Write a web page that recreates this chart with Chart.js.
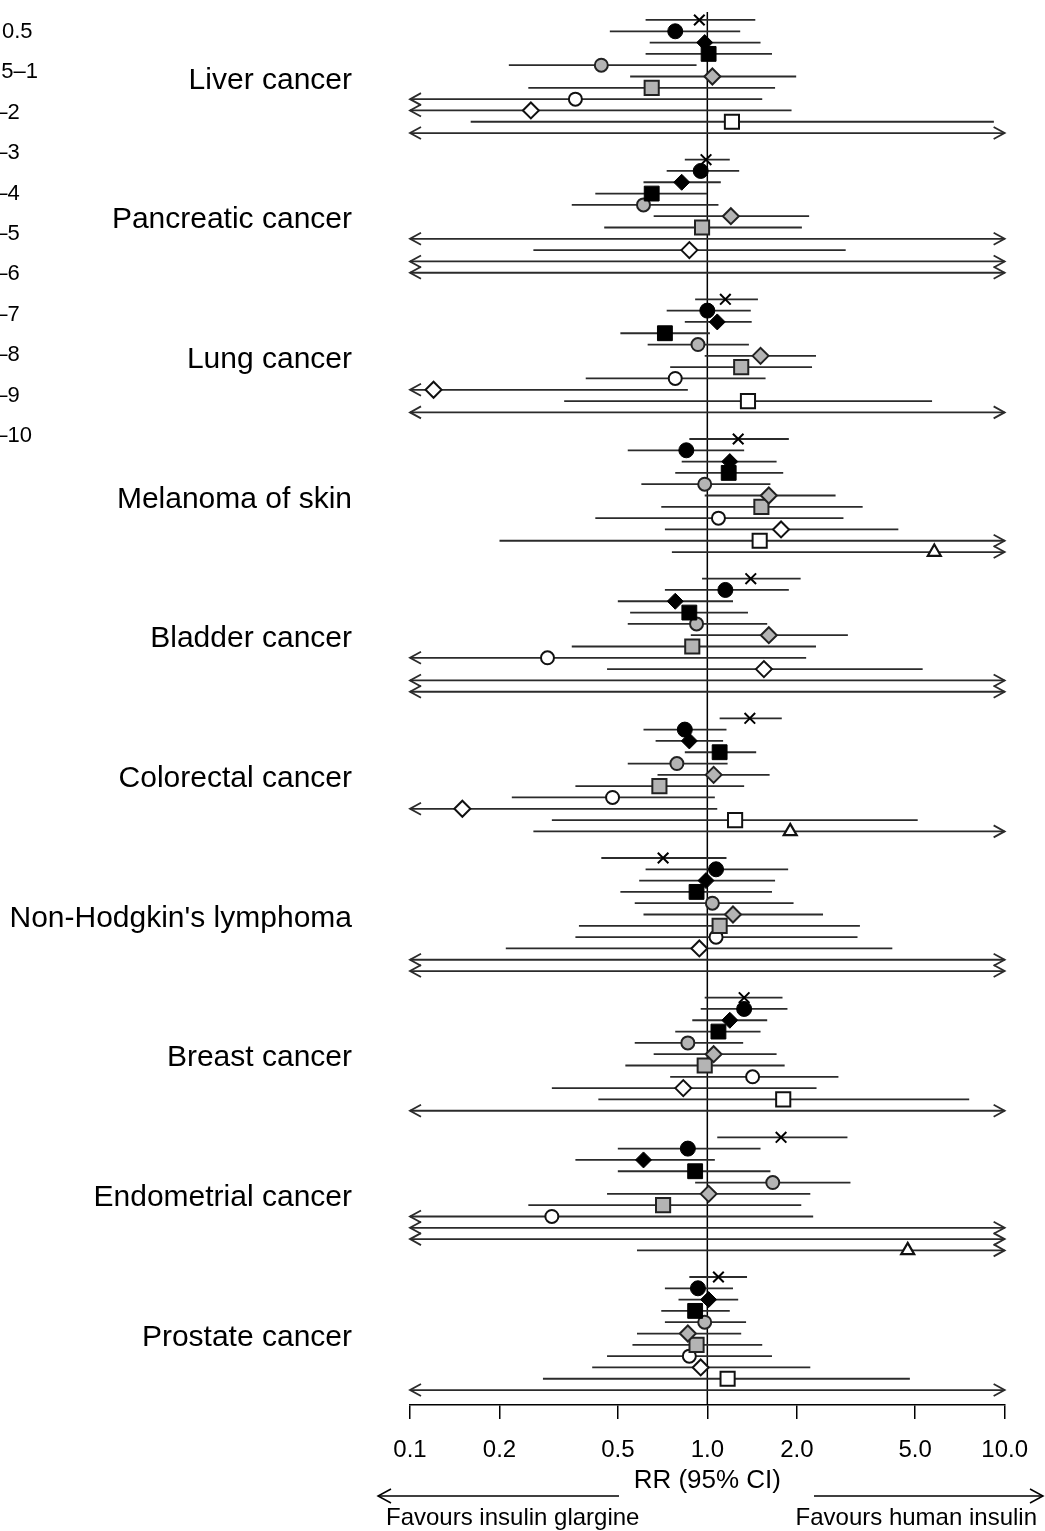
<!DOCTYPE html>
<html><head><meta charset="utf-8">
<script src="https://cdn.jsdelivr.net/npm/chart.js@4.4.1/dist/chart.umd.min.js"></script>
<style>html,body{margin:0;padding:0;background:#fff;}#wrap{width:1045px;height:1531px;}</style>
</head><body><div id="wrap"><canvas id="c" width="1045" height="1531"></canvas></div>
<script>
// ---------- DATA ----------
const cancers = ["Liver cancer","Pancreatic cancer","Lung cancer","Melanoma of skin","Bladder cancer",
  "Colorectal cancer","Non-Hodgkin's lymphoma","Breast cancer","Endometrial cancer","Prostate cancer"];
const periods = ["< 0.5","0.5–1","1–2","2–3","3–4","4–5","5–6","6–7","7–8","8–9","9–10"];
const tickValues = [0.1,0.2,0.5,1,2,5,10];
const tickLabels = ["0.1","0.2","0.5","1.0","2.0","5.0","10.0"];
const N = null;
// each entry: [RR, lower 95% CI, upper 95% CI], cancers in the order above
const rr_lt05 = [[0.94,0.62,1.45],[0.99,0.84,1.19],[1.15,0.91,1.48],[1.27,0.87,1.88],[1.40,0.96,2.06],
  [1.39,1.10,1.78],[0.71,0.44,1.16],[1.33,0.98,1.79],[1.77,1.08,2.96],[1.09,0.87,1.36]];
const rr_05_1 = [[0.78,0.47,1.29],[0.95,0.73,1.28],[1.00,0.73,1.40],[0.85,0.54,1.33],[1.15,0.72,1.88],
  [0.84,0.61,1.16],[1.07,0.62,1.87],[1.33,0.95,1.86],[0.86,0.50,1.51],[0.93,0.72,1.22]];
const rr_1_2 = [[0.98,0.64,1.51],[0.82,0.61,1.11],[1.08,0.84,1.41],[1.19,0.82,1.71],[0.78,0.50,1.22],
  [0.87,0.67,1.13],[0.99,0.59,1.69],[1.19,0.89,1.59],[0.61,0.36,1.06],[1.01,0.80,1.27]];
const rr_2_3 = [[1.01,0.62,1.65],[0.65,0.42,1.00],[0.72,0.51,1.02],[1.18,0.78,1.80],[0.87,0.55,1.37],
  [1.10,0.84,1.46],[0.92,0.51,1.65],[1.09,0.78,1.51],[0.91,0.50,1.63],[0.91,0.70,1.19]];
const rr_3_4 = [[0.44,0.215,0.92],[0.61,0.35,1.09],[0.93,0.63,1.38],[0.98,0.60,1.63],[0.92,0.54,1.59],
  [0.79,0.54,1.17],[1.04,0.57,1.95],[0.86,0.57,1.32],[1.66,0.91,3.03],[0.98,0.72,1.35]];
const rr_4_5 = [[1.04,0.55,1.99],[1.20,0.66,2.20],[1.51,0.98,2.32],[1.61,0.98,2.70],[1.61,0.88,2.97],
  [1.05,0.68,1.62],[1.22,0.61,2.45],[1.05,0.66,1.71],[1.01,0.46,2.22],[0.86,0.58,1.30]];
const rr_5_6 = [[0.65,0.25,1.69],[0.96,0.45,2.08],[1.30,0.75,2.25],[1.52,0.70,3.33],[0.89,0.35,2.32],
  [0.69,0.36,1.33],[1.10,0.37,3.26],[0.98,0.53,1.82],[0.71,0.25,2.07],[0.92,0.56,1.53]];
const rr_6_7 = [[0.36,0.05,1.53],[N,0.01,100],[0.78,0.39,1.57],[1.09,0.42,2.87],[0.29,0.05,2.15],
  [0.48,0.22,1.06],[1.07,0.36,3.20],[1.42,0.75,2.76],[0.30,0.05,2.27],[0.87,0.46,1.65]];
const rr_7_8 = [[0.255,0.05,1.92],[0.87,0.26,2.92],[0.12,0.05,0.86],[1.77,0.72,4.39],[1.55,0.46,5.30],
  [0.15,0.05,1.08],[0.94,0.21,4.19],[0.83,0.30,2.33],[N,0.01,100],[0.95,0.41,2.22]];
const rr_8_9 = [[1.21,0.16,9.2],[N,0.01,100],[1.37,0.33,5.7],[1.50,0.20,15],[N,0.01,100],
  [1.24,0.30,5.1],[N,0.01,100],[1.80,0.43,7.6],[N,0.01,100],[1.17,0.28,4.8]];
const rr_9_10 = [[N,0.01,100],[N,0.01,100],[N,0.01,100],[5.8,0.76,20],[N,0.01,100],
  [1.90,0.26,20],[N,0.01,100],[N,0.01,100],[4.72,0.58,20],[N,0.01,100]];
const series = [rr_lt05,rr_05_1,rr_1_2,rr_2_3,rr_3_4,rr_4_5,rr_5_6,rr_6_7,rr_7_8,rr_8_9,rr_9_10];

// ---------- STYLES ----------
const GRAY = '#b4b4b4';
const markerStyles = [
  {ps:'crossRot', r:7.5, bg:'#000', bc:'#000', bw:2},
  {ps:'circle', r:7.5, bg:'#000', bc:'#000', bw:1},
  {ps:'rectRot', r:8, bg:'#000', bc:'#000', bw:1},
  {ps:'rect', r:10.5, bg:'#000', bc:'#000', bw:1},
  {ps:'circle', r:6.5, bg:GRAY, bc:'#222', bw:2},
  {ps:'rectRot', r:8, bg:GRAY, bc:'#222', bw:2},
  {ps:'rect', r:10, bg:GRAY, bc:'#222', bw:2},
  {ps:'circle', r:6.5, bg:'#fff', bc:'#111', bw:2},
  {ps:'rectRot', r:8, bg:'#fff', bc:'#111', bw:2},
  {ps:'rect', r:10, bg:'#fff', bc:'#111', bw:2},
  {ps:'triangle', r:7.5, bg:'#fff', bc:'#111', bw:2.2}
];
const GROUP_STEP = 12.35;
const rowPos = (g, i) => g * GROUP_STEP + i;
const FONT = '"Liberation Sans", Arial, sans-serif';

const datasets = series.map((arr, i) => ({
  label: periods[i],
  data: arr.map((d, g) => ({x: d[0], y: rowPos(g, i)})),
  pointStyle: markerStyles[i].ps,
  pointRadius: markerStyles[i].r,
  pointHoverRadius: markerStyles[i].r,
  pointBackgroundColor: markerStyles[i].bg,
  pointBorderColor: markerStyles[i].bc,
  pointBorderWidth: markerStyles[i].bw,
  showLine: false
}));

function arrowHead(ctx, x, y, dir) {
  ctx.beginPath();
  ctx.moveTo(x - dir * 11, y - 6);
  ctx.lineTo(x, y);
  ctx.lineTo(x - dir * 11, y + 6);
  ctx.stroke();
}

const forestPlugin = {
  id: 'forest',
  beforeDatasetsDraw(chart) {
    const {ctx, chartArea} = chart;
    const xs = chart.scales.x, ys = chart.scales.y;
    ctx.save();
    // reference line at RR = 1
    ctx.strokeStyle = '#000'; ctx.lineWidth = 1.5;
    const x1 = xs.getPixelForValue(1);
    ctx.beginPath(); ctx.moveTo(x1, chartArea.top); ctx.lineTo(x1, chartArea.bottom); ctx.stroke();
    // confidence intervals
    ctx.strokeStyle = '#2b2b2b'; ctx.lineWidth = 1.8; ctx.lineCap = 'butt';
    series.forEach((arr, i) => {
      arr.forEach((d, g) => {
        const y = ys.getPixelForValue(rowPos(g, i));
        const lo = Math.max(d[1], xs.min), hi = Math.min(d[2], xs.max);
        const a = xs.getPixelForValue(lo), b = xs.getPixelForValue(hi);
        ctx.beginPath(); ctx.moveTo(a, y); ctx.lineTo(b, y); ctx.stroke();
        if (d[1] < xs.min) arrowHead(ctx, a, y, -1);
        if (d[2] > xs.max) arrowHead(ctx, b, y, 1);
      });
    });
    ctx.restore();
  },
  afterDraw(chart) {
    const {ctx} = chart;
    const xs = chart.scales.x, ys = chart.scales.y;
    ctx.save();
    ctx.fillStyle = '#000';
    // group labels
    ctx.font = '30px ' + FONT;
    ctx.textAlign = 'right'; ctx.textBaseline = 'alphabetic';
    cancers.forEach((c, g) => {
      ctx.fillText(c, 352, ys.getPixelForValue(rowPos(g, 5)) + 12);
    });
    // legend labels (clipped at left edge)
    ctx.font = '22px ' + FONT;
    ctx.textAlign = 'left';
    periods.forEach((p, k) => {
      ctx.fillText(p, -17, 38 + k * 40.4);
    });
    // axis title
    ctx.font = '26px ' + FONT;
    ctx.textAlign = 'center';
    ctx.fillText('RR (95% CI)', xs.getPixelForValue(1), 1488);
    // favours arrows
    ctx.strokeStyle = '#000'; ctx.lineWidth = 1.5;
    ctx.beginPath(); ctx.moveTo(378, 1496); ctx.lineTo(619, 1496); ctx.stroke();
    ctx.beginPath(); ctx.moveTo(391, 1489); ctx.lineTo(378, 1496); ctx.lineTo(391, 1503); ctx.stroke();
    ctx.beginPath(); ctx.moveTo(814, 1496); ctx.lineTo(1043, 1496); ctx.stroke();
    ctx.beginPath(); ctx.moveTo(1030, 1489); ctx.lineTo(1043, 1496); ctx.lineTo(1030, 1503); ctx.stroke();
    ctx.font = '24px ' + FONT;
    ctx.textAlign = 'left';
    ctx.fillText('Favours insulin glargine', 386, 1525);
    ctx.textAlign = 'right';
    ctx.fillText('Favours human insulin', 1037, 1525);
    ctx.restore();
  }
};

new Chart(document.getElementById('c'), {
  type: 'scatter',
  data: {datasets},
  options: {
    responsive: false,
    animation: false,
    devicePixelRatio: 1,
    layout: {padding: {left: 410, right: 38, top: 8, bottom: 0}},
    plugins: {legend: {display: false}, tooltip: {enabled: false}},
    scales: {
      x: {
        type: 'logarithmic', min: 0.1, max: 10,
        afterBuildTicks: (s) => { s.ticks = tickValues.map(v => ({value: v})); },
        afterFit: (s) => { s.height = 126; },
        ticks: {
          autoSkip: false, maxRotation: 0, padding: 17, color: '#000',
          font: {family: FONT, size: 24},
          callback: (v) => tickLabels[tickValues.indexOf(v)]
        },
        grid: {drawOnChartArea: false, drawTicks: true, tickLength: 14, color: '#000', lineWidth: 1.5},
        border: {display: true, color: '#000', width: 1.5}
      },
      y: {type: 'linear', display: false, reverse: true, min: -0.705, max: 122.47}
    }
  },
  plugins: [forestPlugin]
});
</script></body></html>
